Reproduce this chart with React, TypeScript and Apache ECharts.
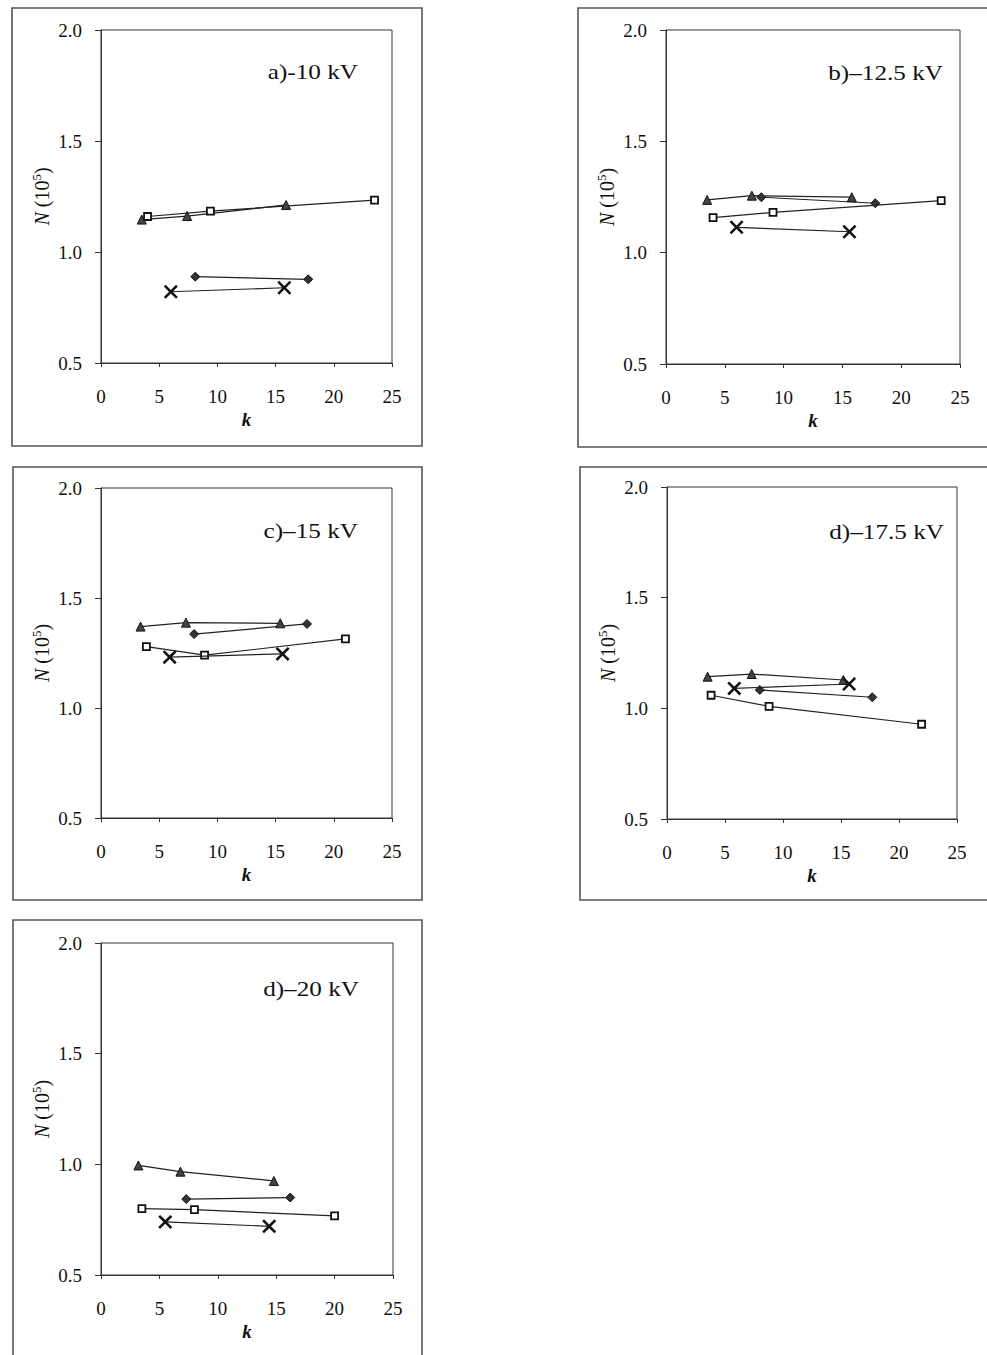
import React, { useEffect, useRef } from "react";
import * as echarts from "echarts";

// ---- data: [k, N (10^5)] ----
const kTicks = [0, 5, 10, 15, 20, 25];
const nTicks = [0.5, 1.0, 1.5, 2.0];

const panelTitles = ["a)-10 kV", "b)\u201312.5 kV", "c)\u201315 kV", "d)\u201317.5 kV", "d)\u201320 kV"];

// a) -10 kV
const aTriangle = [[3.5, 1.146], [7.4, 1.162], [15.9, 1.212]];
const aDiamond = [[8.1, 0.889], [17.8, 0.877]];
const aSquare = [[4.0, 1.16], [9.4, 1.184], [23.5, 1.234]];
const aCross = [[6.0, 0.821], [15.75, 0.839]];

// b) -12.5 kV
const bTriangle = [[3.5, 1.237], [7.3, 1.256], [15.8, 1.249]];
const bDiamond = [[8.1, 1.249], [17.8, 1.222]];
const bSquare = [[4.0, 1.157], [9.1, 1.181], [23.4, 1.234]];
const bCross = [[6.0, 1.114], [15.6, 1.094]];

// c) -15 kV
const cTriangle = [[3.4, 1.37], [7.3, 1.388], [15.4, 1.385]];
const cDiamond = [[8.0, 1.336], [17.7, 1.382]];
const cSquare = [[3.9, 1.279], [8.9, 1.24], [21.0, 1.314]];
const cCross = [[5.9, 1.231], [15.6, 1.246]];

// d) -17.5 kV
const dTriangle = [[3.5, 1.143], [7.3, 1.155], [15.2, 1.128]];
const dDiamond = [[8.0, 1.083], [17.7, 1.05]];
const dSquare = [[3.8, 1.059], [8.8, 1.009], [21.95, 0.928]];
const dCross = [[5.8, 1.09], [15.7, 1.11]];

// e) -20 kV
const eTriangle = [[3.2, 0.995], [6.8, 0.967], [14.8, 0.925]];
const eDiamond = [[7.3, 0.843], [16.2, 0.85]];
const eSquare = [[3.5, 0.8], [8.0, 0.795], [20.0, 0.767]];
const eCross = [[5.5, 0.74], [14.4, 0.72]];

const F = "'Liberation Serif', 'DejaVu Serif', serif";
const INK = "#111";
const CROSS = "path://M0,1.3L1.3,0L5,3.7L8.7,0L10,1.3L6.3,5L10,8.7L8.7,10L5,6.3L1.3,10L0,8.7L3.7,5Z";

const grids = [
  { left: 101, top: 30, width: 291, height: 333 },
  { left: 666, top: 30, width: 294, height: 334 },
  { left: 101, top: 488, width: 291, height: 330 },
  { left: 667, top: 487, width: 290, height: 332 },
  { left: 101, top: 943, width: 292, height: 332 },
];

const frames = [
  { x: 12, y: 8, w: 410, h: 438 },
  { x: 578, y: 8, w: 430, h: 439 },
  { x: 13, y: 467, w: 409, h: 433 },
  { x: 580, y: 467, w: 430, h: 433 },
  { x: 13, y: 920, w: 409, h: 460 },
];

const titlePos = [
  { x: 358, y: 72 },
  { x: 943, y: 73 },
  { x: 358, y: 531 },
  { x: 944, y: 532 },
  { x: 359, y: 989 },
];

const panels = [
  [aTriangle, aDiamond, aSquare, aCross],
  [bTriangle, bDiamond, bSquare, bCross],
  [cTriangle, cDiamond, cSquare, cCross],
  [dTriangle, dDiamond, dSquare, dCross],
  [eTriangle, eDiamond, eSquare, eCross],
];

function buildOption() {
  const grid: any[] = [];
  const xAxis: any[] = [];
  const yAxis: any[] = [];
  const series: any[] = [];
  const graphic: any[] = [];

  panels.forEach((p, i) => {
    grid.push({ ...grids[i], show: true, borderColor: "#333", borderWidth: 1, backgroundColor: "transparent" });
    xAxis.push({
      type: "value",
      gridIndex: i,
      min: kTicks[0],
      max: kTicks[kTicks.length - 1],
      interval: 5,
      name: "k",
      nameLocation: "middle",
      nameGap: 47,
      nameTextStyle: { fontFamily: F, fontStyle: "italic", fontWeight: "bold", fontSize: 19, color: INK },
      axisLine: { show: true, lineStyle: { color: "#333", width: 1 } },
      axisTick: { show: true, inside: false, length: 4, lineStyle: { color: "#333" } },
      axisLabel: { fontFamily: F, fontSize: 19, color: INK, margin: 24 },
      splitLine: { show: false },
    });
    yAxis.push({
      type: "value",
      gridIndex: i,
      min: nTicks[0],
      max: nTicks[nTicks.length - 1],
      interval: 0.5,
      name: "{i|N} (10{s|5})",
      nameLocation: "middle",
      nameGap: 44,
      nameTextStyle: {
        fontFamily: F,
        fontSize: 20,
        color: INK,
        lineHeight: 24,
        rich: {
          i: { fontFamily: F, fontStyle: "italic", fontSize: 20, color: INK, lineHeight: 24 },
          s: { fontFamily: F, fontSize: 13, color: INK, verticalAlign: "top", lineHeight: 14 },
        },
      },
      axisLine: { show: true, lineStyle: { color: "#333", width: 1 } },
      axisTick: { show: true, inside: false, length: 6, lineStyle: { color: "#333" } },
      axisLabel: { fontFamily: F, fontSize: 19, color: INK, margin: 19, formatter: (v: number) => v.toFixed(1) },
      splitLine: { show: false },
    });

    const base = {
      type: "line",
      xAxisIndex: i,
      yAxisIndex: i,
      lineStyle: { color: "#222", width: 1.2 },
      emphasis: { disabled: true },
    };
    series.push({
      ...base,
      name: "triangle",
      data: p[0],
      symbol: "triangle",
      symbolSize: 9,
      itemStyle: { color: "#444", borderColor: "#111", borderWidth: 1 },
      z: 4,
    });
    series.push({
      ...base,
      name: "diamond",
      data: p[1],
      symbol: "diamond",
      symbolSize: 9,
      itemStyle: { color: "#333", borderColor: "#111", borderWidth: 1 },
      z: 4,
    });
    series.push({
      ...base,
      name: "square",
      data: p[2],
      symbol: "rect",
      symbolSize: 7,
      itemStyle: { color: "#fff", borderColor: "#111", borderWidth: 1.8 },
      z: 4,
    });
    series.push({
      ...base,
      name: "cross",
      data: p[3],
      symbol: CROSS,
      symbolSize: 14,
      itemStyle: { color: "#111" },
      z: 5,
    });

    const fr = frames[i];
    graphic.push({
      type: "rect",
      shape: { x: fr.x, y: fr.y, width: fr.w, height: fr.h },
      style: { fill: "none", stroke: "#555", lineWidth: 1.6 },
      silent: true,
    });
    graphic.push({
      type: "text",
      x: titlePos[i].x,
      y: titlePos[i].y,
      scaleX: 1.2,
      style: {
        text: panelTitles[i],
        fontFamily: F,
        fontSize: 21,
        fill: INK,
        align: "right",
        verticalAlign: "middle",
      },
      silent: true,
    });
  });

  return { animation: false, backgroundColor: "#fff", grid, xAxis, yAxis, series, graphic };
}

export default function App() {
  const ref = useRef<HTMLDivElement>(null);
  useEffect(() => {
    if (!ref.current) return;
    const chart = echarts.init(ref.current, undefined, { renderer: "svg" });
    chart.setOption(buildOption() as any);
    return () => chart.dispose();
  }, []);
  return (
    <div
      ref={ref}
      style={{ position: "fixed", left: 0, top: 0, width: 987, height: 1355, background: "#fff" }}
    />
  );
}
